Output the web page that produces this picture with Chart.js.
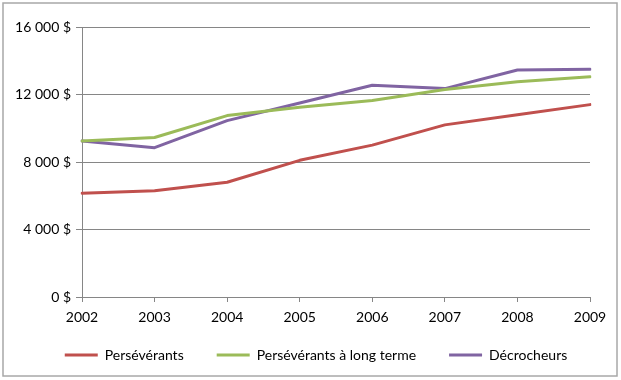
<!DOCTYPE html>
<html>
<head>
<meta charset="utf-8">
<script src="https://cdn.jsdelivr.net/npm/chart.js@4/dist/chart.umd.min.js"></script>
<style>
  html, body { margin: 0; padding: 0; background: #ffffff; }
  #wrap { position: relative; width: 621px; height: 380px; }
</style>
</head>
<body>
<div id="wrap"><canvas id="c" width="621" height="380"></canvas></div>
<script>
const years = ['2002', '2003', '2004', '2005', '2006', '2007', '2008', '2009'];
const perseverants = [6150, 6300, 6800, 8100, 9000, 10200, 10800, 11400];
const perseverantsLongTerme = [9250, 9450, 10750, 11250, 11650, 12300, 12750, 13050];
const decrocheurs = [9250, 8850, 10450, 11500, 12550, 12350, 13450, 13500];
const seriesNames = ['Persévérants', 'Persévérants à long terme', 'Décrocheurs'];
const yTicks = [0, 4000, 8000, 12000, 16000];

const fontFamily = 'Lato, "Open Sans", sans-serif';

function fmt(v) {
  const s = String(Math.round(v)).replace(/\B(?=(\d{3})+(?!\d))/g, '\u00a0');
  return s + '\u00a0$';
}

const frame = {
  id: 'frame',
  afterLayout(chart) {
    // let the x labels draw below the compact x-axis box without being clipped
    chart.scales.x.bottom += 24;
    // shift the legend row slightly right, as in the reference
    if (chart.legend) {
      chart.legend.left += 16;
      chart.legend.right += 16;
    }
  },
  afterDraw(chart) {
    const ctx = chart.ctx;
    ctx.save();
    ctx.strokeStyle = '#a8a8a8';
    ctx.lineWidth = 1.5;
    ctx.strokeRect(3, 3, 614, 373);
    ctx.restore();
  }
};

new Chart(document.getElementById('c'), {
  type: 'line',
  data: {
    labels: years,
    datasets: [
      { label: seriesNames[0], data: perseverants, borderColor: '#C0504D', backgroundColor: '#C0504D', borderWidth: 3 },
      { label: seriesNames[1], data: perseverantsLongTerme, borderColor: '#9BBB59', backgroundColor: '#9BBB59', borderWidth: 3 },
      { label: seriesNames[2], data: decrocheurs, borderColor: '#8064A2', backgroundColor: '#8064A2', borderWidth: 3 }
    ]
  },
  options: {
    responsive: false,
    animation: false,
    devicePixelRatio: 1,
    layout: { padding: { left: 10, right: 31, top: 27, bottom: 8 } },
    elements: {
      line: { borderWidth: 3, tension: 0, borderCapStyle: 'round', borderJoinStyle: 'round' },
      point: { radius: 0, hoverRadius: 0 }
    },
    plugins: {
      tooltip: { enabled: false },
      legend: {
        position: 'bottom',
        labels: {
          usePointStyle: true,
          pointStyle: 'line',
          pointStyleWidth: 33,
          color: '#000000',
          padding: 33,
          font: { family: fontFamily, size: 14 }
        }
      }
    },
    scales: {
      x: {
        offset: false,
        grid: { display: true, drawOnChartArea: false, drawTicks: true, tickLength: 5, color: '#868686' },
        border: { display: true, color: '#868686', width: 1 },
        ticks: { color: '#000000', padding: 7, maxRotation: 0, font: { family: fontFamily, size: 14 } },
        afterFit(scale) { scale.height = 18; }
      },
      y: {
        min: 0,
        max: 16000,
        afterBuildTicks(scale) { scale.ticks = yTicks.map(v => ({ value: v })); },
        grid: { color: '#868686', lineWidth: 1, drawTicks: true, tickLength: 6 },
        border: { display: true, color: '#868686', width: 1 },
        ticks: { color: '#000000', padding: 5, font: { family: fontFamily, size: 14 }, callback: v => fmt(v) },
        afterFit(scale) { scale.width = 72; }
      }
    }
  },
  plugins: [frame]
});
</script>
</body>
</html>
